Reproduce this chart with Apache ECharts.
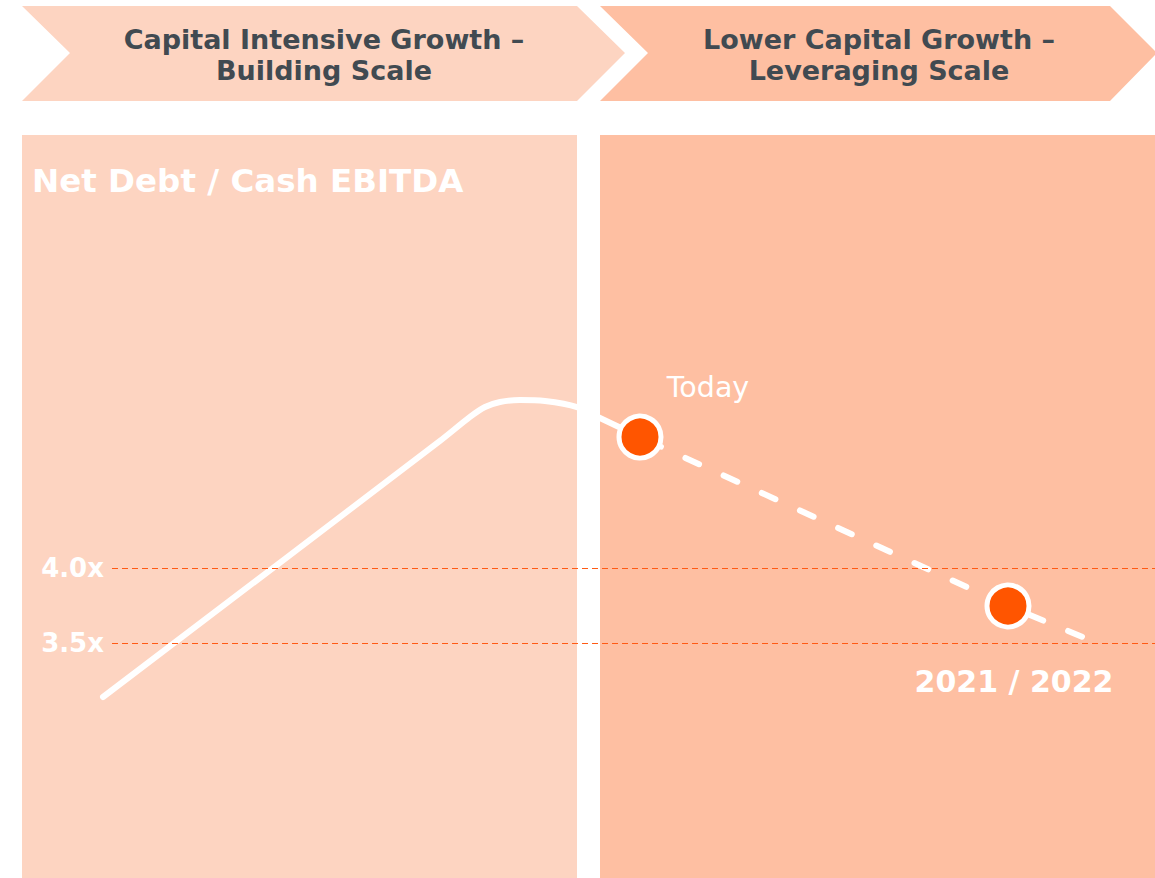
<!DOCTYPE html>
<html>
<head>
<meta charset="utf-8">
<script src="https://cdn.jsdelivr.net/npm/echarts@6/dist/echarts.min.js"></script>
<style>
  html, body { margin: 0; padding: 0; background: #fff; }
  #chart { width: 1155px; height: 878px; }
</style>
</head>
<body>
<div id="chart"></div>
<script>
// phases (chevrons)
const phaseNames = ['Capital Intensive Growth –\nBuilding Scale', 'Lower Capital Growth –\nLeveraging Scale'];
// leverage path: history (solid) and outlook (dashed), x = time units, y = Net Debt / Cash EBITDA
const historyX = [1.03, 4.40, 4.70, 4.85, 5.00, 5.20, 5.45, 5.77, 6.00, 6.40];
const historyY = [3.14, 4.847, 5.007, 5.073, 5.107, 5.12, 5.113, 5.073, 5.00, 4.873];
const outlookX = [6.40, 10.08, 10.90];
const outlookY = [4.873, 3.747, 3.52];
// highlighted points
const pointNames = ['Today', '2021 / 2022'];
const pointX = [6.40, 10.08];
const pointY = [4.873, 3.747];
// reference levels
const refLevels = [4.0, 3.5];
const refLabels = ['4.0x', '3.5x'];

const FONT = '"DejaVu Sans", Verdana, sans-serif';
const LIGHT = '#FDD4C1';   // 左侧阶段颜色
const DARK = '#FEBFA2';    // 右侧阶段颜色

const chart = echarts.init(document.getElementById('chart'), null, { renderer: 'svg' });

const zip = (xs, ys) => xs.map((x, i) => [x, ys[i]]);

const option = {
    backgroundColor: '#ffffff',
    animation: false,
    grid: { left: 0, right: 0, top: 43, bottom: 10 },
    xAxis: {
        type: 'value', min: 0, max: 11.55,
        show: false
    },
    yAxis: {
        type: 'value', min: 2, max: 7.5,
        show: false
    },
    graphic: [
        // chevrons
        { type: 'polygon', z: -10, shape: { points: [[22, 6], [577, 6], [625, 53], [577, 101], [22, 101], [70, 53]] }, style: { fill: LIGHT } },
        { type: 'polygon', z: -10, shape: { points: [[600, 6], [1110, 6], [1157, 53], [1110, 101], [600, 101], [648, 53]] }, style: { fill: DARK } },
        // panels
        { type: 'rect', z: -10, shape: { x: 22, y: 135, width: 555, height: 750 }, style: { fill: LIGHT } },
        { type: 'rect', z: -10, shape: { x: 600, y: 135, width: 560, height: 750 }, style: { fill: DARK } },
        {
            type: 'text', z: 5, x: 324, y: 55,
            style: { text: phaseNames[0], align: 'center', verticalAlign: 'middle', fill: '#414A51', font: 'bold 27px ' + FONT, lineHeight: 31 }
        },
        {
            type: 'text', z: 5, x: 879, y: 55,
            style: { text: phaseNames[1], align: 'center', verticalAlign: 'middle', fill: '#414A51', font: 'bold 27px ' + FONT, lineHeight: 31 }
        },
        {
            type: 'text', z: 5, x: 32, y: 181,
            style: { text: 'Net Debt / Cash EBITDA', verticalAlign: 'middle', fill: '#ffffff', font: 'bold 32.5px ' + FONT }
        }
    ],
    series: [
        {
            name: 'history',
            type: 'line',
            data: zip(historyX, historyY),
            smooth: 0.25,
            showSymbol: false,
            symbol: 'none',
            lineStyle: { color: '#ffffff', width: 6, cap: 'round', join: 'round' },
            z: 3,
            markLine: {
                silent: true,
                symbol: 'none',
                lineStyle: { color: '#FF5A14', width: 1, type: [6, 4] },
                label: {
                    show: true, position: 'start', distance: 8,
                    color: '#ffffff', fontFamily: FONT, fontWeight: 'bold', fontSize: 26
                },
                data: refLevels.map((v, i) => [
                    { coord: [1.12, v], label: { formatter: refLabels[i] } },
                    { coord: [11.55, v] }
                ])
            }
        },
        {
            name: 'outlook',
            type: 'line',
            data: zip(outlookX, outlookY),
            showSymbol: false,
            symbol: 'none',
            lineStyle: { color: '#ffffff', width: 6, type: [15, 27], dashOffset: -8, cap: 'round' },
            z: 3
        },
        {
            name: 'points',
            type: 'scatter',
            symbolSize: 42,
            itemStyle: { color: '#FF5500', borderColor: '#ffffff', borderWidth: 5, opacity: 1 },
            z: 5,
            label: {
                show: true,
                color: '#ffffff',
                fontFamily: FONT,
                formatter: p => pointNames[p.dataIndex]
            },
            data: [
                { value: [pointX[0], pointY[0]], label: { position: 'top', offset: [68, -7], fontSize: 28.5 } },
                { value: [pointX[1], pointY[1]], label: { position: 'bottom', offset: [6, 32], fontSize: 30, fontWeight: 'bold' } }
            ]
        }
    ]
};

chart.setOption(option);
</script>
</body>
</html>
